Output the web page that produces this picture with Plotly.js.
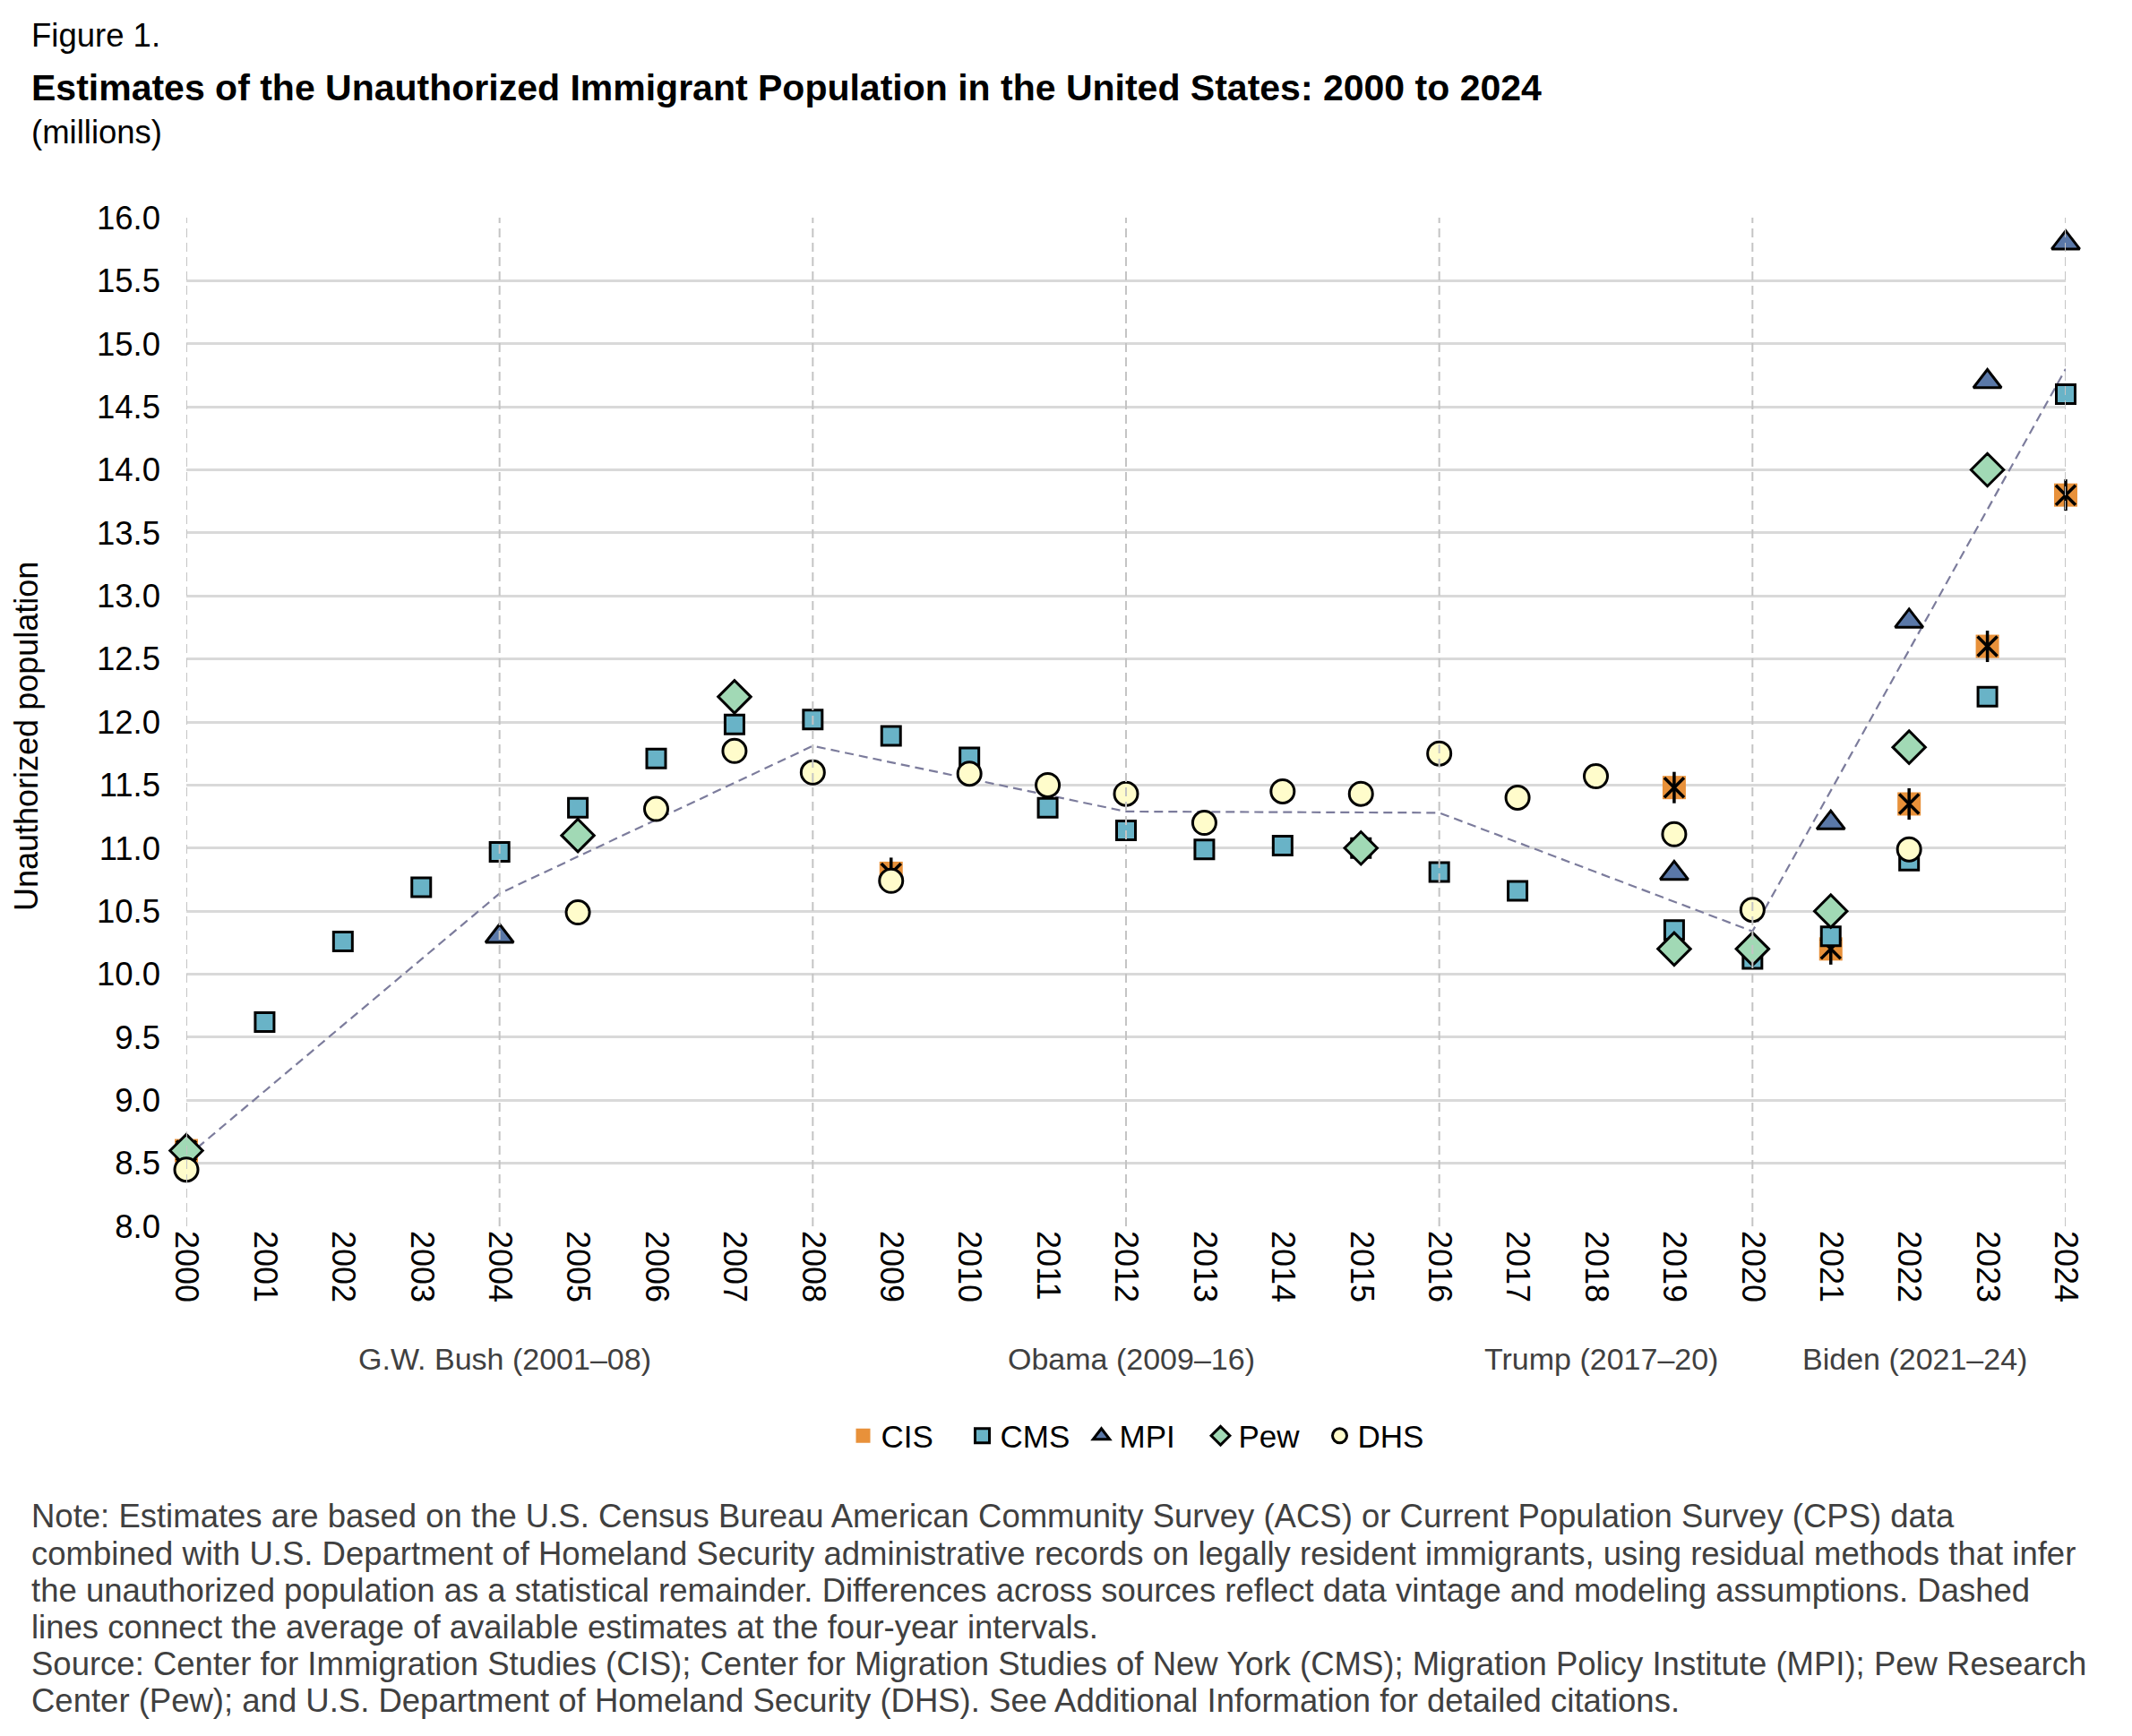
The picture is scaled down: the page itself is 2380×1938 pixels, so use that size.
<!DOCTYPE html>
<html>
<head>
<meta charset="utf-8">
<script src="https://cdn.plot.ly/plotly-3.0.1.min.js"></script>
<style>html,body{margin:0;padding:0;background:#fff;}#chart{width:2380px;height:1938px;}</style>
</head>
<body>
<div id="chart"></div>
<script>
// ---- data (millions) ----
const years = [2000,2001,2002,2003,2004,2005,2006,2007,2008,2009,2010,2011,2012,2013,2014,2015,2016,2017,2018,2019,2020,2021,2022,2023,2024];
const yearLabels = years.map(String);

const cisYears = [2000, 2009, 2019, 2021, 2022, 2023, 2024];
const cisValues = [8.6, 10.8, 11.48, 10.2, 11.35, 12.6, 13.8];

const cmsYears = [2001,2002,2003,2004,2005,2006,2007,2008,2009,2010,2011,2012,2013,2014,2015,2016,2017,2019,2020,2021,2022,2023,2024];
const cmsValues = [9.62,10.26,10.69,10.97,11.32,11.71,11.98,12.02,11.89,11.72,11.32,11.14,10.99,11.02,11.0,10.81,10.66,10.35,10.12,10.3,10.9,12.2,14.6];

const mpiYears = [2004, 2019, 2021, 2022, 2023, 2024];
const mpiValues = [10.3, 10.8, 11.2, 12.8, 14.7, 15.8];

const pewYears = [2000, 2005, 2007, 2015, 2019, 2020, 2021, 2022, 2023];
const pewValues = [8.6, 11.1, 12.2, 11.0, 10.2, 10.2, 10.5, 11.8, 14.0];

const dhsYears = [2000,2005,2006,2007,2008,2009,2010,2011,2012,2013,2014,2015,2016,2017,2018,2019,2020,2022];
const dhsValues = [8.45,10.49,11.31,11.77,11.6,10.74,11.59,11.5,11.43,11.2,11.45,11.43,11.75,11.4,11.57,11.11,10.51,10.99];

// average of available estimates at four-year intervals
const avgYears = [2000, 2004, 2008, 2012, 2016, 2020, 2024];
const avgValues = [8.55, 10.64, 11.81, 11.29, 11.28, 10.34, 14.8];

// administration boundaries and labels
const boundaryYears = [2000, 2004, 2008, 2012, 2016, 2020, 2024];
const adminLabels = ["G.W. Bush (2001\u201308)", "Obama (2009\u201316)", "Trump (2017\u201320)", "Biden (2021\u201324)"];
const adminLabelYears = [2004, 2012, 2018, 2022];

const noteLines = [
  "Note: Estimates are based on the U.S. Census Bureau American Community Survey (ACS) or Current Population Survey (CPS) data",
  "combined with U.S. Department of Homeland Security administrative records on legally resident immigrants, using residual methods that infer",
  "the unauthorized population as a statistical remainder. Differences across sources reflect data vintage and modeling assumptions. Dashed",
  "lines connect the average of available estimates at the four-year intervals.",
  "Source: Center for Immigration Studies (CIS); Center for Migration Studies of New York (CMS); Migration Policy Institute (MPI); Pew Research",
  "Center (Pew); and U.S. Department of Homeland Security (DHS). See Additional Information for detailed citations."
];

// ---- geometry helpers (pixel -> paper) ----
const W = 2380, H = 1938;
const M = {l: 208, r: 74, t: 243, b: 569};
const plotW = W - M.l - M.r, plotH = H - M.t - M.b;
const px = X => (X - M.l) / plotW;
const py = Y => (H - M.b - Y) / plotH;

const FONT = "Liberation Sans, Arial, sans-serif";
const BORDER = {color: "#000000", width: 3};

const traces = [
  {x: avgYears, y: avgValues, type: "scatter", mode: "lines", showlegend: false, hoverinfo: "skip",
   line: {color: "#7c7c9c", width: 2.2, dash: "10px,6px"}, cliponaxis: false},
  {x: cisYears, y: cisValues, name: "CIS", type: "scatter", mode: "markers", legendgroup: "cis",
   marker: {symbol: "square", size: 26, color: "#E8913A", line: {width: 0}}, cliponaxis: false},
  {x: cisYears, y: cisValues, name: "CIS", type: "scatter", mode: "markers", legendgroup: "cis", showlegend: false,
   marker: {symbol: "x-thin-open", size: 22, color: "#000000", line: {color: "#000000", width: 3.5}}, cliponaxis: false},
  {x: cisYears, y: cisValues, name: "CIS", type: "scatter", mode: "markers", legendgroup: "cis", showlegend: false,
   marker: {symbol: "line-ns-open", size: 25, color: "#000000", line: {color: "#000000", width: 3.5}}, cliponaxis: false},
  {x: cmsYears, y: cmsValues, name: "CMS", type: "scatter", mode: "markers",
   marker: {symbol: "square", size: 21, color: "#69B3C7", line: BORDER}, cliponaxis: false},
  {x: mpiYears, y: mpiValues, name: "MPI", type: "scatter", mode: "markers",
   marker: {symbol: "triangle-up", size: 27, color: "#5A78A8", line: BORDER}, cliponaxis: false},
  {x: pewYears, y: pewValues, name: "Pew", type: "scatter", mode: "markers",
   marker: {symbol: "diamond", size: 28, color: "#A1D9B5", line: BORDER}, cliponaxis: false},
  {x: dhsYears, y: dhsValues, name: "DHS", type: "scatter", mode: "markers",
   marker: {symbol: "circle", size: 26, color: "#FFFCCB", line: BORDER}, cliponaxis: false}
];

const shapes = boundaryYears.map(yr => ({
  type: "line", xref: "x", yref: "paper", x0: yr, x1: yr, y0: 0, y1: 1, layer: "above",
  line: {color: "#c4c4c4", width: 2, dash: "10px,6px"}
}));

const annotations = [];
annotations.push({text: "Figure 1.", xref: "paper", yref: "paper", x: px(33), y: py(39), xanchor: "left", yanchor: "middle",
  showarrow: false, font: {family: FONT, size: 36.5, color: "#000"}});
annotations.push({text: "<b>Estimates of the Unauthorized Immigrant Population in the United States: 2000 to 2024</b>", xref: "paper", yref: "paper",
  x: px(33), y: py(98), xanchor: "left", yanchor: "middle", showarrow: false, font: {family: FONT, size: 41, color: "#000"}});
annotations.push({text: "(millions)", xref: "paper", yref: "paper", x: px(33), y: py(148), xanchor: "left", yanchor: "middle",
  showarrow: false, font: {family: FONT, size: 36.5, color: "#000"}});
annotations.push({text: "Unauthorized population", xref: "paper", yref: "paper", x: px(30), y: py(822), xanchor: "center", yanchor: "middle",
  textangle: -90, showarrow: false, font: {family: FONT, size: 36, color: "#000"}});
adminLabels.forEach((t, i) => annotations.push({text: t, xref: "x", yref: "paper", x: adminLabelYears[i], xshift: 6, y: py(1517),
  xanchor: "center", yanchor: "middle", showarrow: false, font: {family: FONT, size: 34, color: "#404040"}}));
const noteY = [1692, 1734, 1775, 1816, 1857, 1898];
noteLines.forEach((t, i) => annotations.push({text: t, xref: "paper", yref: "paper", x: px(33), y: py(noteY[i]),
  xanchor: "left", yanchor: "middle", showarrow: false, font: {family: FONT, size: 36.5, color: "#404040"}}));

const layout = {
  width: W, height: H,
  margin: M,
  paper_bgcolor: "#ffffff", plot_bgcolor: "#ffffff",
  font: {family: FONT, size: 35, color: "#000"},
  showlegend: true,
  legend: {orientation: "h", x: px(1276), y: py(1603), xanchor: "center", yanchor: "middle",
    font: {family: FONT, size: 35, color: "#000"}, itemwidth: 30, entrywidth: 88, tracegroupgap: 0},
  xaxis: {range: [2000, 2024], tickvals: years, ticktext: yearLabels, tickangle: 90,
    showgrid: false, zeroline: false, showline: false, ticks: "", ticklabelstandoff: 4,
    tickfont: {family: FONT, size: 36, color: "#000"}, fixedrange: true},
  yaxis: {range: [8, 16], dtick: 0.5, tick0: 8, tickformat: ".1f", showgrid: true, gridcolor: "#d9d9d9", gridwidth: 3,
    zeroline: false, showline: false, ticks: "", ticklabelstandoff: 28,
    tickfont: {family: FONT, size: 36.5, color: "#000"}, fixedrange: true},
  shapes: shapes,
  annotations: annotations
};

Plotly.newPlot("chart", traces, layout, {displayModeBar: false, staticPlot: true});
</script>
</body>
</html>
